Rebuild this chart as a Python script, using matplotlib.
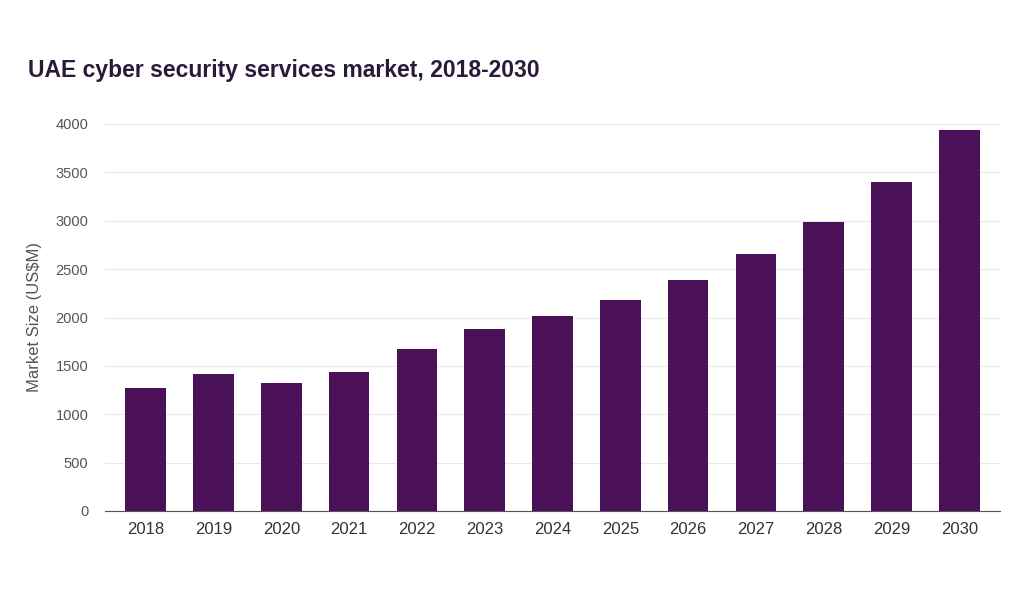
import matplotlib.pyplot as plt

years = ['2018', '2019', '2020', '2021', '2022', '2023', '2024',
         '2025', '2026', '2027', '2028', '2029', '2030']
market_size = [1271, 1416, 1323, 1437, 1674, 1881, 2015,
               2181, 2388, 2656, 2987, 3400, 3938]

plt.rcParams['font.family'] = ['Liberation Sans', 'DejaVu Sans']

fig = plt.figure(figsize=(10.24, 5.97), dpi=100)
ax = fig.add_axes([105/1024, 1 - 511/597, 895/1024, 387/597])

ax.bar(years, market_size, width=0.6, color='#4a1158', zorder=3)
ax.set_ylim(0, 4000)
ax.set_xlim(-0.6, 12.6)
ax.set_yticks(range(0, 4001, 500))
ax.grid(axis='y', color='#e8e8e8', linewidth=0.8, zorder=0)
for s in ['top', 'right', 'left']:
    ax.spines[s].set_visible(False)
ax.spines['bottom'].set_color('#555555')
ax.tick_params(axis='y', length=0, labelsize=10.5, labelcolor='#555555', pad=12)
ax.tick_params(axis='x', length=0, labelsize=12, labelcolor='#333333', pad=8)
ax.set_ylabel('Market Size (US$M)', fontsize=12, color='#555555', labelpad=10)

fig.text(28/1024, 1 - 70/597, 'UAE cyber security services market, 2018-2030',
         fontsize=16.5, fontweight='bold', color='#2a1a3a', va='center')

fig.savefig('out.png', dpi=100, facecolor='white')
